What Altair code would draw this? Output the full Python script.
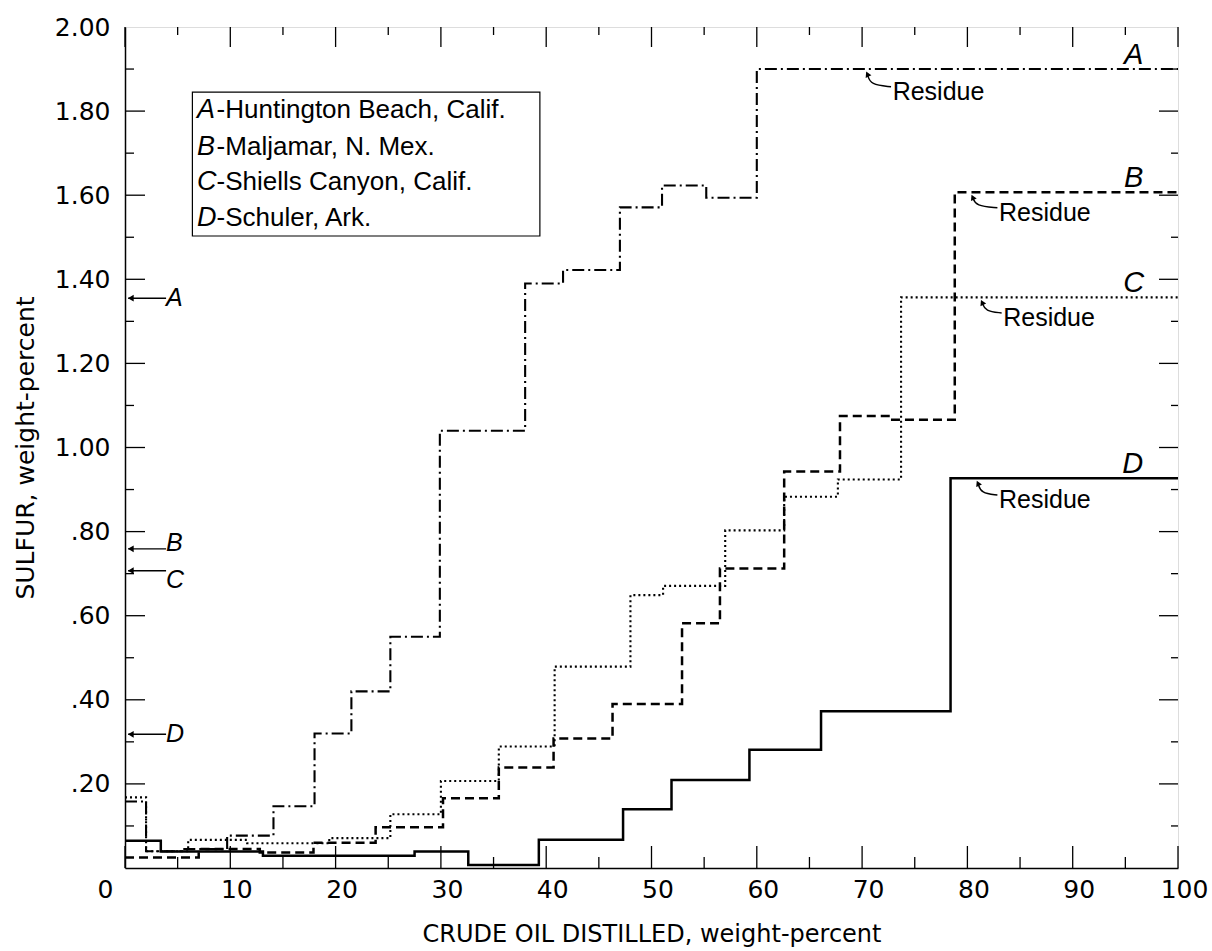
import altair as alt
import pandas as pd

# ---------------- data ----------------
X_MAX = 100
A_edges = [0, 2.0, 5.5, 9.7, 14.1, 18.0, 21.5, 25.2, 29.9, 38.0, 41.6, 47.0, 51.0, 55.2, 60.0]
A_vals = [0.158, 0.040, 0.045, 0.077, 0.147, 0.320, 0.420, 0.550, 1.040, 1.390, 1.422, 1.571, 1.623, 1.594, 1.900]
B_edges = [0, 7.0, 12.8, 17.9, 23.8, 30.2, 35.5, 40.7, 46.3, 52.9, 56.5, 62.6, 67.9, 72.7, 78.8]
B_vals = [0.025, 0.045, 0.037, 0.060, 0.097, 0.166, 0.239, 0.308, 0.390, 0.582, 0.712, 0.943, 1.075, 1.066, 1.607]
C_edges = [0, 2.0, 6.0, 11.6, 19.4, 25.2, 30.0, 35.5, 40.8, 48.0, 51.1, 57.0, 62.6, 67.7, 73.7]
C_vals = [0.168, 0.040, 0.067, 0.059, 0.071, 0.128, 0.207, 0.289, 0.479, 0.649, 0.671, 0.803, 0.883, 0.924, 1.357]
D_edges = [0, 3.4, 13.1, 27.5, 32.6, 39.3, 47.3, 51.9, 59.3, 66.1, 78.4]
D_vals = [0.065, 0.039, 0.029, 0.039, 0.007, 0.067, 0.140, 0.209, 0.281, 0.373, 0.927]

series_letters = ["A", "B", "C", "D"]
crude_sulfur = [1.355, 0.759, 0.707, 0.318]          # whole-crude values (arrows on y axis)
crude_label_y = [1.355, 0.773, 0.684, 0.318]         # where the letters sit next to the arrows
legend_names = ["-Huntington Beach, Calif.", "-Maljamar, N. Mex.",
                "-Shiells Canyon, Calif.", "-Schuler, Ark."]
legend_rows_y = [1.803, 1.715, 1.631, 1.546]
legend_box = {"x": [6.4], "x2": [39.4], "y": [1.845], "y2": [1.503]}

residue_text_x = [72.9, 83.0, 83.4, 83.0]
residue_text_y = [1.846, 1.558, 1.308, 0.875]
residue_head_x = [70.5, 80.5, 81.4, 81.0]
end_label_x = [95.8, 95.8, 95.8, 95.7]

x_ticks_major = list(range(0, 101, 10))
x_ticks_minor = list(range(5, 100, 10))
y_ticks_major = [round(0.2 * i, 1) for i in range(1, 10)]
y_ticks_minor = [round(0.1 * i, 1) for i in range(1, 20, 2)]

# ---------------- geometry / style ----------------
W, H = 1053, 841
xs = alt.Scale(domain=[0, 100], nice=False, zero=False)
ys = alt.Scale(domain=[0, 2], nice=False, zero=False)
AXIS_FONT = "DejaVu Sans"
TEXT_FONT = "Liberation Sans"

x_axis = alt.Axis(
    values=x_ticks_major, format="d", ticks=False, grid=False,
    domainColor="black", domainWidth=1.5,
    labelFont=AXIS_FONT, labelFontSize=25, labelColor="black", labelPadding=9,
    labelAlign={"condition": {"test": "datum.value == 0", "value": "right"}, "value": "center"},
    labelOffset={"condition": {"test": "datum.value == 0", "value": -12}, "value": 6},
    title="CRUDE OIL DISTILLED, weight-percent", titleFont=AXIS_FONT, titleFontSize=24,
    titleFontWeight="normal", titleColor="black", titlePadding=20,
)
y_axis = alt.Axis(
    values=[round(0.2 * i, 1) for i in range(0, 11)], ticks=False, grid=False,
    domainColor="black", domainWidth=1.5,
    labelExpr="datum.value == 0 ? '' : (datum.value < 1 ? replace(format(datum.value, '.2f'), '0.', '.') : format(datum.value, '.2f'))",
    labelFont=AXIS_FONT, labelFontSize=25, labelColor="black", labelPadding=15,
    title="SULFUR, weight-percent", titleFont=AXIS_FONT, titleFontSize=25,
    titleFontWeight="normal", titleColor="black", titlePadding=16,
)


def X(field):
    return alt.X(field, type="quantitative", scale=xs, axis=x_axis)


def Y(field):
    return alt.Y(field, type="quantitative", scale=ys, axis=y_axis)


def step_frame(edges, vals):
    xx = list(edges) + [X_MAX]
    yy = list(vals) + [vals[-1]]
    return pd.DataFrame({"x": xx, "y": yy, "i": list(range(len(xx)))})


def step_line(edges, vals, width, dash=None):
    kw = dict(interpolate="step-after", color="black", strokeWidth=width)
    if dash:
        kw["strokeDash"] = dash
    return alt.Chart(step_frame(edges, vals)).mark_line(**kw).encode(
        x=X("x"), y=Y("y"), order=alt.Order("i:Q"))


layers = []

# inward ticks on all four sides
def xtick(vals, y0, y1):
    return alt.Chart(pd.DataFrame({"v": vals})).mark_rule(color="black", strokeWidth=1.3).encode(
        x=X("v"), y=alt.value(y0), y2=alt.value(y1))


def ytick(vals, x0, x1):
    return alt.Chart(pd.DataFrame({"v": vals})).mark_rule(color="black", strokeWidth=1.3).encode(
        y=Y("v"), x=alt.value(x0), x2=alt.value(x1))


layers += [xtick(x_ticks_major, H, H - 22), xtick(x_ticks_minor, H, H - 11),
           xtick(x_ticks_major, 0, 20), xtick(x_ticks_minor, 0, 8),
           ytick(y_ticks_major, 0, 20), ytick(y_ticks_minor, 0, 9),
           ytick(y_ticks_major, W, W - 19), ytick(y_ticks_minor, W, W - 7)]

# legend box
layers.append(alt.Chart(pd.DataFrame(legend_box)).mark_rect(
    fill="white", stroke="black", strokeWidth=1.2).encode(
    x=X("x"), x2="x2", y=Y("y"), y2="y2"))
leg = pd.DataFrame({"letter": series_letters, "name": legend_names, "y": legend_rows_y,
                    "lx": [6.84] * 4, "nx": [8.7] * 4})
layers.append(alt.Chart(leg).mark_text(
    align="left", baseline="middle", font=TEXT_FONT, fontSize=27, fontStyle="italic",
    color="black").encode(x=X("lx"), y=Y("y"), text="letter"))
layers.append(alt.Chart(leg).mark_text(
    align="left", baseline="middle", font=TEXT_FONT, fontSize=26, color="black").encode(
    x=X("nx"), y=Y("y"), text="name"))

# step curves
layers.append(step_line(A_edges, A_vals, 2.1, [12, 4, 2, 4]))
layers.append(step_line(B_edges, B_vals, 2.5, [9, 5]))
layers.append(step_line(C_edges, C_vals, 2.1, [2, 3]))
layers.append(step_line(D_edges, D_vals, 2.5))

# whole-crude arrows on the y axis
crude = pd.DataFrame({"letter": series_letters, "y": crude_sulfur, "ly": crude_label_y,
                      "x0": [0.3] * 4, "x1": [3.9] * 4, "tx": [3.9] * 4, "hx": [0.55] * 4})
layers.append(alt.Chart(crude).mark_rule(color="black", strokeWidth=1.4).encode(
    x=X("x0"), x2="x1", y=Y("y")))
layers.append(alt.Chart(crude).mark_point(
    shape="triangle-left", filled=True, size=45, color="black", opacity=1).encode(
    x=X("hx"), y=Y("y")))
layers.append(alt.Chart(crude).mark_text(
    align="left", baseline="middle", font=TEXT_FONT, fontSize=25, fontStyle="italic",
    color="black").encode(x=X("tx"), y=Y("ly"), text="letter"))

# end labels A-D above residue lines
ends = pd.DataFrame({"letter": series_letters, "x": end_label_x,
                     "y": [A_vals[-1], B_vals[-1], C_vals[-1], D_vals[-1]]})
layers.append(alt.Chart(ends).mark_text(
    align="center", baseline="alphabetic", dy=-5, font=TEXT_FONT, fontSize=29,
    fontStyle="italic", color="black").encode(x=X("x"), y=Y("y"), text="letter"))

# "Residue" annotations with curved arrows
line_end = [A_vals[-1], B_vals[-1], C_vals[-1], D_vals[-1]]
res = pd.DataFrame({"t": ["Residue"] * 4, "x": residue_text_x, "y": residue_text_y})
layers.append(alt.Chart(res).mark_text(
    align="left", baseline="middle", font=TEXT_FONT, fontSize=25, color="black").encode(
    x=X("x"), y=Y("y"), text="t"))
curve_rows = []
for g, (tx, ty, hx, lv) in enumerate(zip(residue_text_x, residue_text_y, residue_head_x, line_end)):
    curve_rows += [
        {"g": g, "i": 0, "x": tx - 0.15, "y": ty + 0.012},
        {"g": g, "i": 1, "x": hx + 0.3, "y": ty + 0.016},
        {"g": g, "i": 2, "x": hx, "y": lv - 0.012},
    ]
layers.append(alt.Chart(pd.DataFrame(curve_rows)).mark_line(
    interpolate="basis", color="black", strokeWidth=1.4).encode(
    x=X("x"), y=Y("y"), detail="g:N", order=alt.Order("i:Q")))
heads = pd.DataFrame({"x": residue_head_x, "y": [v - 0.012 for v in line_end]})
layers.append(alt.Chart(heads).mark_point(
    shape="triangle-up", filled=True, size=40, angle=335, color="black", opacity=1).encode(
    x=X("x"), y=Y("y")))

chart = alt.layer(*layers).properties(
    width=W, height=H, autosize="none",
    padding={"left": 125, "top": 27, "right": 1212 - 125 - W, "bottom": 951 - 27 - H},
).configure_view(stroke="black", strokeWidth=1.5).configure(background="white")

chart.save("out.html", embed_options={"renderer": "svg", "actions": False})
